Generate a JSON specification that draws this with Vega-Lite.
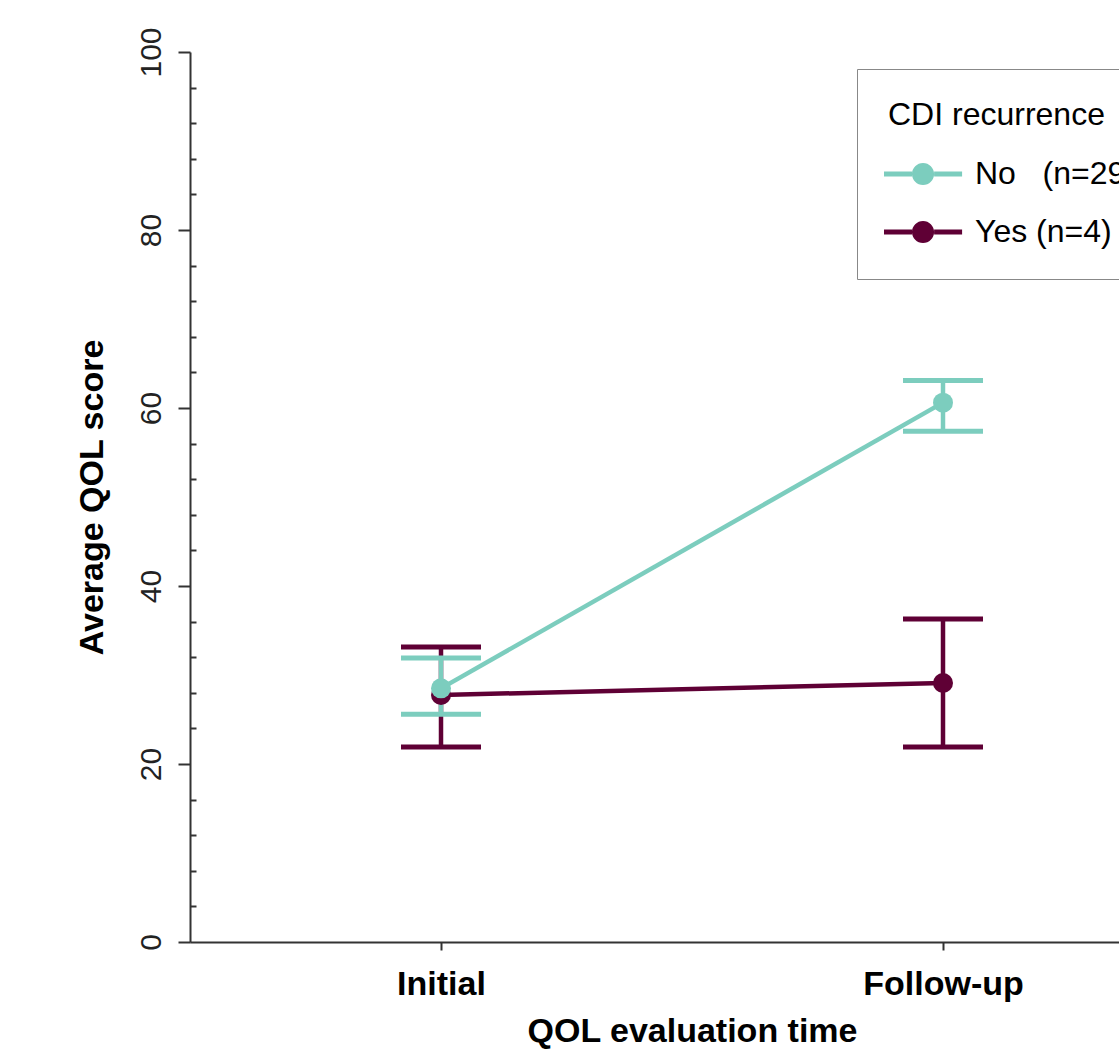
{
  "$schema": "https://vega.github.io/schema/vega-lite/v6.json",
  "autosize": {"type": "none"},
  "padding": {"left": 190, "top": 52, "right": 0, "bottom": 115},
  "width": 1004,
  "height": 890,
  "background": "white",
  "data": {
    "values": [
      {"time": "Initial", "group": "Yes", "mean": 27.75, "lo": 21.9, "hi": 33.15},
      {"time": "Follow-up", "group": "Yes", "mean": 29.1, "lo": 21.9, "hi": 36.3},
      {"time": "Initial", "group": "No", "mean": 28.5, "lo": 25.6, "hi": 31.9},
      {"time": "Follow-up", "group": "No", "mean": 60.6, "lo": 57.4, "hi": 63.1}
    ]
  },
  "config": {
    "view": {"stroke": null},
    "font": "Liberation Sans"
  },
  "encoding": {
    "x": {
      "field": "time", "type": "nominal",
      "scale": {"type": "point", "domain": ["Initial", "Follow-up"], "padding": 0.5},
      "axis": {
        "title": "QOL evaluation time",
        "labelAngle": 0,
        "labelFont": "Liberation Sans", "labelFontSize": 34, "labelFontWeight": "bold", "labelColor": "#000",
        "labelPadding": 17, "labelBaseline": "top",
        "titleFont": "Liberation Sans", "titleFontSize": 34, "titleFontWeight": "bold", "titleColor": "#000",
        "titlePadding": 13,
        "domainColor": "#333", "domainWidth": 2,
        "tickColor": "#333", "tickWidth": 2, "tickSize": 8,
        "grid": false
      }
    },
    "color": {
      "field": "group", "type": "nominal",
      "scale": {"domain": ["No", "Yes"], "range": ["#7CCDBE", "#5F0035"]},
      "legend": {
        "title": "CDI recurrence",
        "orient": "none", "legendX": 667, "legendY": 17,
        "padding": 31,
        "strokeColor": "#888",
        "titleFont": "Liberation Sans", "titleFontSize": 32, "titleFontWeight": "normal", "titleColor": "#000",
        "titlePadding": 26, "titleLimit": 2000,
        "labelFont": "Liberation Sans", "labelFontSize": 32, "labelColor": "#000", "labelLimit": 2000,
        "labelOffset": 55,
        "labelExpr": "datum.label == 'No' ? 'No\u00a0\u00a0\u00a0(n=29)' : 'Yes (n=4)'",
        "rowPadding": 26,
        "symbolType": "M-1.43,-0.18H0.57V0.18H-1.43Z M2.15,-0.18H4.15V0.18H2.15Z M2.15,0A0.79,0.79 0 1,1 0.57,0A0.79,0.79 0 1,1 2.15,0Z",
        "symbolSize": 784,
        "symbolStrokeWidth": 0,
        "encode": {"symbols": {"update": {"fill": {"scale": "color", "field": "value"}, "stroke": {"value": "transparent"}, "opacity": {"value": 1}}}}
      }
    }
  },
  "resolve": {"axis": {"y": "independent"}},
  "layer": [
    {
      "mark": {"type": "rule", "strokeWidth": 4.5},
      "encoding": {
        "y": {
          "field": "lo", "type": "quantitative",
          "scale": {"domain": [0, 100], "nice": false, "zero": false},
          "axis": {
            "orient": "left",
            "title": "Average QOL score",
            "values": [0, 20, 40, 60, 80, 100],
            "labelAngle": 270, "labelAlign": "center", "labelBaseline": "alphabetic",
            "labelFont": "Liberation Sans", "labelFontSize": 30, "labelColor": "#222",
            "labelPadding": 18,
            "titleFont": "Liberation Sans", "titleFontSize": 34, "titleFontWeight": "bold", "titleColor": "#000",
            "titlePadding": 27,
            "domainColor": "#333", "domainWidth": 2,
            "tickColor": "#333", "tickWidth": 2, "tickSize": 12,
            "grid": false
          }
        },
        "y2": {"field": "hi"}
      }
    },
    {
      "mark": {"type": "tick", "thickness": 5, "size": 80, "opacity": 1},
      "encoding": {
        "y": {
          "field": "lo", "type": "quantitative",
          "axis": {
            "orient": "left",
            "title": null,
            "values": [4, 8, 12, 16, 24, 28, 32, 36, 44, 48, 52, 56, 64, 68, 72, 76, 84, 88, 92, 96],
            "labels": false,
            "domain": false,
            "tickColor": "#333", "tickWidth": 2, "tickSize": -6,
            "grid": false
          }
        }
      }
    },
    {
      "mark": {"type": "tick", "thickness": 5, "size": 80, "opacity": 1},
      "encoding": {
        "y": {"field": "hi", "type": "quantitative", "axis": null}
      }
    },
    {
      "mark": {"type": "line", "strokeWidth": 4.5},
      "encoding": {
        "y": {"field": "mean", "type": "quantitative", "axis": null}
      }
    },
    {
      "mark": {"type": "point", "filled": true, "size": 400, "opacity": 1},
      "encoding": {
        "y": {"field": "mean", "type": "quantitative", "axis": null}
      }
    }
  ]
}
